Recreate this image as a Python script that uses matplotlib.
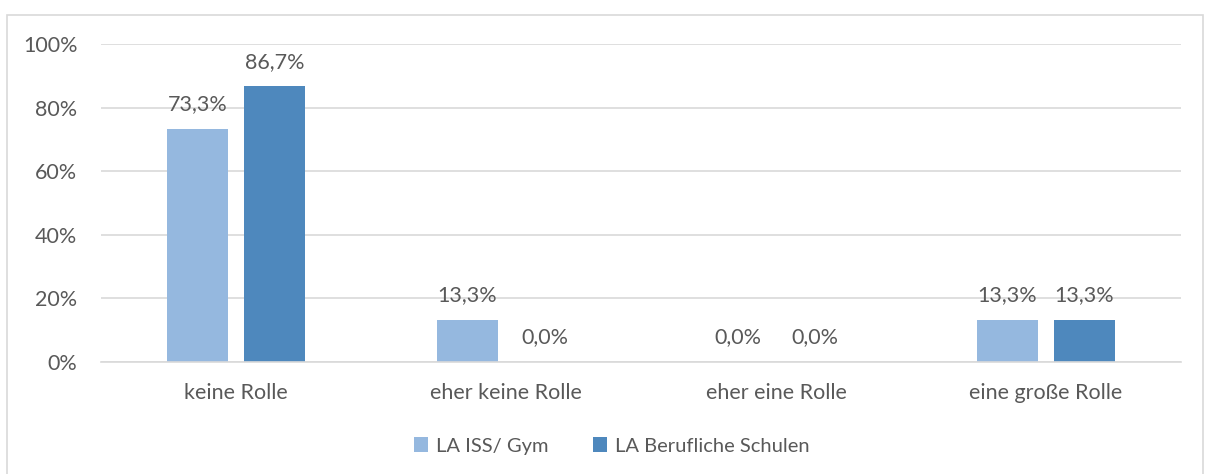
import matplotlib.pyplot as plt
import matplotlib.patches as mpatches
import numpy as np

categories = ["keine Rolle", "eher keine Rolle", "eher eine Rolle", "eine große Rolle"]
series_names = ["LA ISS/ Gym", "LA Berufliche Schulen"]
iss_gym = [73.3, 13.3, 0.0, 13.3]
berufliche = [86.7, 0.0, 0.0, 13.3]
colors = ["#95B8DF", "#4E88BD"]
text_color = "#595959"

plt.rcParams['font.family'] = ['Lato', 'DejaVu Sans']
fs = 15.5

fig = plt.figure(figsize=(12.06, 4.74), dpi=100)
# chart frame
fig.patches.append(mpatches.Rectangle((7 / 1206, -0.01), 1196 / 1206, 1 - 15 / 474 + 0.01,
                                      transform=fig.transFigure, fill=False,
                                      edgecolor="#D9D9D9", linewidth=1.2))

ax = fig.add_axes([101 / 1206, 1 - 362 / 474, 1080 / 1206, (362 - 44) / 474])

x = np.arange(len(categories))
width = 0.226
offset = 0.1426
for i, (vals, name) in enumerate(zip([iss_gym, berufliche], series_names)):
    pos = x + (offset if i else -offset)
    bars = ax.bar(pos, np.array(vals) / 100, width, color=colors[i], label=name, zorder=3)
    for b, v in zip(bars, vals):
        ax.annotate(f"{v:.1f}%".replace(".", ","), (b.get_x() + b.get_width() / 2, b.get_height()),
                    xytext=(0, 10.5), textcoords="offset points", ha="center", va="bottom",
                    fontsize=fs, color=text_color)

ax.set_xlim(-0.5, 3.5)
ax.set_ylim(0, 1)
ax.set_yticks(np.arange(0, 1.01, 0.2))
ax.set_yticklabels([f"{int(t * 100)}%" for t in np.arange(0, 1.01, 0.2)])
ax.set_xticks(x)
ax.set_xticklabels(categories)
ax.tick_params(axis="both", length=0, labelsize=fs, colors=text_color)
ax.tick_params(axis="y", pad=17)
ax.tick_params(axis="x", pad=15)
ax.grid(axis="y", color="#D9D9D9", linewidth=1.2, zorder=0)
for s in ["top", "right", "left"]:
    ax.spines[s].set_visible(False)
ax.spines["bottom"].set_color("#D9D9D9")
ax.spines["bottom"].set_linewidth(1.2)
ax.spines["bottom"].set_zorder(4)

leg = fig.legend(loc="center", bbox_to_anchor=(612 / 1206, 1 - 446 / 474), ncol=2, frameon=False,
                 fontsize=14.5, handlelength=0.7, handleheight=0.7, handletextpad=0.4,
                 columnspacing=2.2)
for t in leg.get_texts():
    t.set_color(text_color)

fig.savefig("out.png", dpi=100)
